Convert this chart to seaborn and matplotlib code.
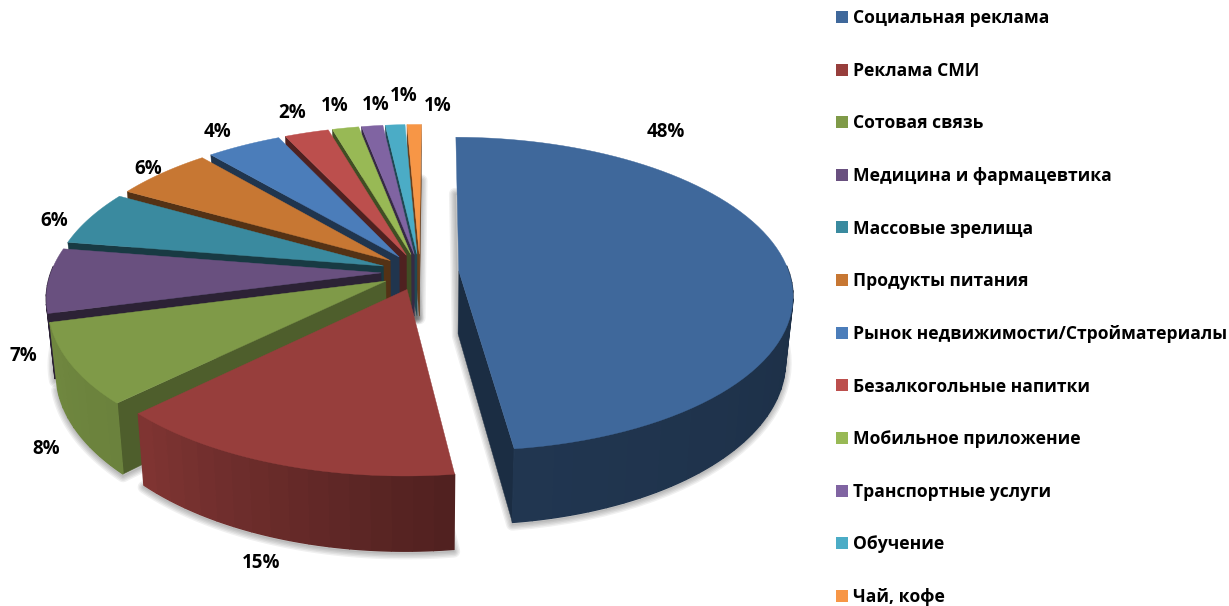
import numpy as np
import seaborn as sns
import matplotlib.pyplot as plt
from matplotlib.patches import Patch

categories = ["Социальная реклама", "Реклама СМИ", "Сотовая связь", "Медицина и фармацевтика",
              "Массовые зрелища", "Продукты питания", "Рынок недвижимости/Стройматериалы",
              "Безалкогольные напитки", "Мобильное приложение", "Транспортные услуги",
              "Обучение", "Чай, кофе"]
shares = [47.5, 14.55, 8.2, 6.6, 5.6, 5.5, 4.2, 2.49, 1.49, 1.2, 1.1, 0.8]
slice_colors = ["#3f689b", "#973e3c", "#7f9a48", "#69507f", "#3a8a9f", "#c77733",
                "#4b7dba", "#bc4f4d", "#98b955", "#8064a2", "#4bacc6", "#f79646"]

# label positions in the picture, pixels from the top left
label_x = [666, 261, 46, 23, 54, 148, 217, 292, 335, 376, 404, 438]
label_y = [132, 563, 449, 356, 221, 169, 132, 113, 106, 105, 96, 106]

# fake 3D camera of the pie
cx, cy = 420, 272
rx, ry = 330, 153.6
persp = 0.1466
explode = 0.118
depth = 63
start = 0.4

sns.set_theme(style="white")
plt.rcParams['font.family'] = ['Open Sans', 'DejaVu Sans']
palette = sns.color_palette(slice_colors)


def project(a, b, bottom=False):
    s = 1 / (1 + persp * b)
    x = rx * a * s
    y = cy - ry * b * s
    if bottom:
        return cx + x * 0.98, y + depth * s
    return cx + x, y


def shade(color, f):
    return tuple(c * f for c in color)


def rim_shade(t):
    return np.interp(t, [90, 172, 224, 254, 257], [0.45, 0.52, 0.84, 0.88, 0.42])


def wall_shade(t):
    return np.interp(t, [172, 224.5, 254], [0.43, 0.62, 0.42])


fig = plt.figure(figsize=(12.29, 6.06), dpi=100)
ax = fig.add_axes([0, 0, 1, 1])
ax.set_xlim(0, 1229)
ax.set_ylim(606, 0)
sns.despine(ax=ax, left=True, bottom=True)
ax.set_xticks([])
ax.set_yticks([])

fractions = np.array(shares) / np.sum(shares) * 360
edges = start + np.concatenate([[0], np.cumsum(fractions)])
mids = (edges[:-1] + edges[1:]) / 2

# back slices first, the front ones cover them
order = np.argsort(-np.cos(np.radians(mids)))

# soft shadow under every slice, all of it below the slices
for i in order:
    t = np.radians(np.linspace(edges[i], edges[i + 1], 60))
    a0 = explode * np.sin(np.radians(mids[i]))
    b0 = explode * np.cos(np.radians(mids[i]))
    xs, ys = project(np.r_[a0, a0 + np.sin(t)], np.r_[b0, b0 + np.cos(t)], bottom=True)
    for lw in [9, 7, 5, 3, 1]:
        ax.fill(xs, ys + 2, facecolor="none", edgecolor="#000000", alpha=0.06, lw=lw,
                joinstyle="round", zorder=1)

for z, i in enumerate(order):
    color = palette[i]
    a0 = explode * np.sin(np.radians(mids[i]))
    b0 = explode * np.cos(np.radians(mids[i]))
    zo = 2 + z

    # radial walls, only the ones turned towards the viewer
    walls = []
    if np.sin(np.radians(edges[i])) < 0:
        walls.append(edges[i])
    if np.sin(np.radians(edges[i + 1])) > 0:
        walls.append(edges[i + 1])
    for edge in walls:
        a1 = a0 + np.sin(np.radians(edge))
        b1 = b0 + np.cos(np.radians(edge))
        x_top, y_top = project(np.array([a0, a1]), np.array([b0, b1]))
        x_bot, y_bot = project(np.array([a1, a0]), np.array([b1, b0]), bottom=True)
        c = shade(color, wall_shade(edge))
        ax.fill(np.r_[x_top, x_bot], np.r_[y_top, y_bot], color=c, lw=0.3, zorder=zo)

    # outer wall in strips, the back half of the rim stays hidden
    steps = np.linspace(edges[i], edges[i + 1], max(int(fractions[i] / 3), 2) + 1)
    for t0, t1 in zip(steps[:-1], steps[1:]):
        if np.cos(np.radians((t0 + t1) / 2)) > 0.02:
            continue
        tt = np.radians(np.linspace(t0, t1, 6))
        a = a0 + np.sin(tt)
        b = b0 + np.cos(tt)
        x_top, y_top = project(a, b)
        x_bot, y_bot = project(a[::-1], b[::-1], bottom=True)
        c = shade(color, rim_shade((t0 + t1) / 2))
        ax.fill(np.r_[x_top, x_bot], np.r_[y_top, y_bot], color=c, lw=1, zorder=zo)

    # top face
    t = np.radians(np.linspace(edges[i], edges[i + 1], 80))
    x_face, y_face = project(np.r_[a0, a0 + np.sin(t)], np.r_[b0, b0 + np.cos(t)])
    ax.fill(x_face, y_face, color=color, lw=0.3, zorder=zo)

for value, x, y in zip(shares, label_x, label_y):
    ax.text(x, y, f"{value:.0f}%", ha="center", va="center", fontsize=13.5,
            fontweight="bold", color="black", zorder=50)

handles = [Patch(facecolor=c, edgecolor="none", label=n) for c, n in zip(palette, categories)]
ax.legend(handles=handles, loc="upper left", bbox_to_anchor=(836, 9), bbox_transform=ax.transData,
          frameon=False, borderpad=0, borderaxespad=0, handlelength=0.68, handleheight=0.68,
          handletextpad=0.3, labelspacing=1.98, labelcolor="black",
          prop={"family": ['Open Sans', 'DejaVu Sans'], "weight": "bold", "size": 12.6})

fig.savefig("out.png", dpi=100)
